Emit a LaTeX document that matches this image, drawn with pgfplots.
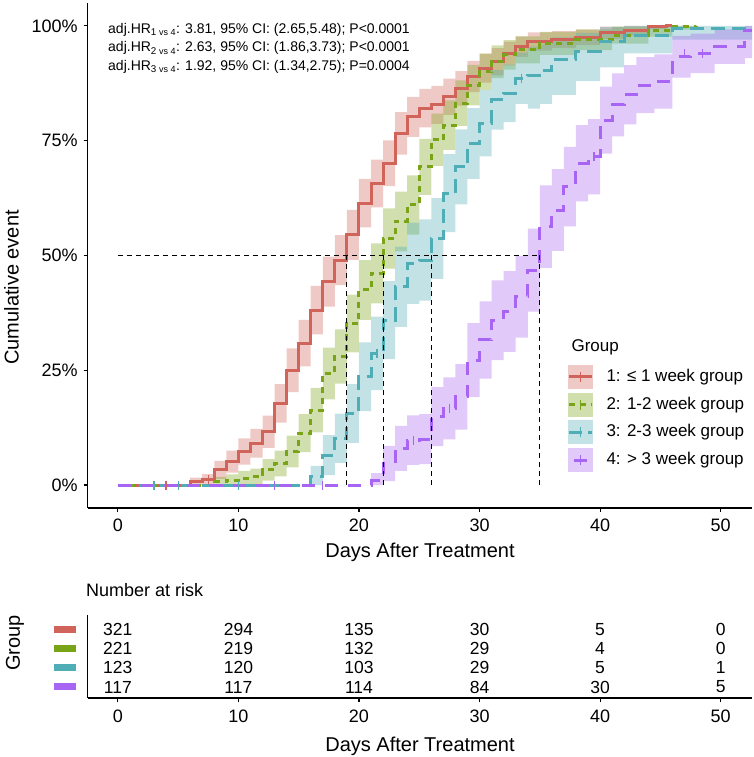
\documentclass[border=0pt]{standalone}
\usepackage{pgfplots}
\pgfplotsset{compat=1.18}
\usepackage{pgfplotstable}
\usepgfplotslibrary{fillbetween}
\usepackage{fontspec}
\setmainfont{Liberation Sans}
\definecolor{cA}{HTML}{D0635A}
\definecolor{cB}{HTML}{7AA418}
\definecolor{cC}{HTML}{4FADB5}
\definecolor{cD}{HTML}{A864F2}
\newcommand{\fs}[1]{\fontsize{#1}{#1}\selectfont}

\pgfplotstableread{
t F lo hi
0 0 0 0
6 0.7 0 1.6
7 1.2 0 2.4
8 3.3 1.35 5.25
9 5.1 2.7 7.5
10 7.3 4.45 10.15
11 9.1 5.95 12.25
12 11.6 8.1 15.1
13 17.8 13.6 22.0
14 25.0 20.25 29.75
15 30.9 25.85 35.95
16 38.1 32.8 43.4
17 44.3 38.85 49.75
18 49.0 43.55 54.45
19 54.5 49.05 59.95
20 61.4 56.1 66.7
21 65.7 60.5 70.9
22 70.1 65.1 75.1
23 76.6 71.95 81.25
24 80.2 75.85 84.55
25 82.1 77.9 86.3
26 82.8 78.65 86.95
27 84.6 80.65 88.55
28 86.4 82.65 90.15
29 89.0 85.6 92.4
30 90.8 87.65 93.95
31 92.2 89.25 95.15
32 94.0 91.4 96.6
33 95.5 93.25 97.75
34 96.6 94.6 98.6
36 97.0 95.15 98.85
38 97.5 95.8 99.2
40 98.5 97.15 99.85
42 99.0 97.9 100
44 99.8 99.3 100
45.5 100 100 100
46 100 100 100
}\gA

\pgfplotstableread{
t F lo hi
0 0 0 0
8 0.7 0 1.8
9 1.0 0 2.3
10 1.5 0 3.1
11 1.8 0.05 3.55
12 3.3 0.95 5.65
13 4.7 1.9 7.5
14 7.3 3.85 10.75
15 11.3 7.15 15.45
16 16.3 11.45 21.15
17 24.3 18.65 29.95
18 28.0 22.1 33.9
19 35.2 28.9 41.5
20 42.5 36.0 49.0
21 46.1 39.55 52.65
22 53.7 47.15 60.25
23 57.4 50.9 63.9
24 61.0 54.55 67.45
25 69.3 63.2 75.4
26 75.2 69.5 80.9
27 78.4 73.0 83.8
28 83.2 78.25 88.15
29 87.1 82.7 91.5
30 90.0 86.05 93.95
31 92.2 88.65 95.75
32 93.7 90.5 96.9
33 94.8 91.85 97.75
35 96.2 93.7 98.7
38 97.0 94.75 99.25
41 98.0 96.15 99.85
44 99.0 97.7 100
46 99.8 99.2 100
48 100 100 100
}\gB

\pgfplotstableread{
t F lo hi
0 0 0 0
16 1.8 0 4.15
17 6.5 2.15 10.85
18 10.2 4.85 15.55
19 15.6 9.2 22.0
20 23.6 16.1 31.1
21 28.7 20.7 36.7
22 35.9 27.4 44.4
23 43.2 34.45 51.95
24 48.3 39.45 57.15
25 49.0 40.15 57.85
26 53.7 44.9 62.5
27 63.6 55.1 72.1
28 69.3 61.15 77.45
29 74.4 66.7 82.1
30 78.8 71.6 86.0
31 83.9 77.4 90.4
32 85.3 79.05 91.55
33 88.6 83.0 94.2
34 89.3 82.0 95.5
35 90.4 83.0 96.0
36 92.6 85.0 97.5
38 94.4 88.0 98.5
40 96.6 91.0 99.8
42 98.0 94.0 100
46 99.5 97.0 100
52.6 99.5 97.0 100
}\gC

\pgfplotstableread{
t F lo hi
0 0 0 0
21 0.9 0 2.6
22 4.7 0.85 8.55
23 8.0 3.1 12.9
24 9.8 4.4 15.2
25 10.0 4.55 15.45
26 14.9 8.45 21.35
27 16.7 9.95 23.45
28 19.2 12.05 26.35
29 27.2 19.15 35.25
30 31.6 23.2 40.0
31 35.9 27.2 44.6
32 37.8 29.0 46.6
33 41.0 32.1 49.9
34 46.8 37.75 55.85
35 56.3 47.3 65.3
36 59.9 51.0 68.8
37 65.0 56.35 73.65
38 70.1 61.8 78.4
39 71.5 63.3 79.7
40 79.5 72.2 86.8
41 82.8 75.95 89.65
42 85.0 78.55 91.45
43 87.1 81.0 93.2
44.5 87.9 82.0 93.8
46 93.3 88.75 97.85
47.5 94.0 89.7 98.3
49.5 95.5 91.75 99.25
52 99.0 93.0 100
52.6 99.0 93.0 100
}\gD

\pgfplotstableread{
x y n
0 4 321
10 4 294
20 4 135
30 4 30
40 4 5
50 4 0
0 3 221
10 3 219
20 3 132
30 3 29
40 3 4
50 3 0
0 2 123
10 2 120
20 2 103
30 2 29
40 2 5
50 2 1
0 1 117
10 1 117
20 1 114
30 1 84
40 1 30
50 1 5
}\risk

\begin{document}
\begin{tikzpicture}
\begin{axis}[
  at={(87.7pt,249pt)}, anchor=south west,
  scale only axis, width=664.3pt, height=505pt,
  xmin=-2.5, xmax=52.6, ymin=-5, ymax=105,
  axis x line*=bottom, axis y line*=left,
  axis line style={line width=1.1pt, black},
  xtick={0,10,...,50},
  ytick={0,25,50,75,100},
  yticklabels={0\%,25\%,50\%,75\%,100\%},
  tick align=outside, major tick length=4pt,
  tick style={line width=1.1pt, black},
  tick label style={font=\fs{18}},
  xticklabel style={yshift=-3pt},
  yticklabel style={xshift=-2.5pt},
  /pgf/number format/assume math mode=true,
]
% bands
\addplot[name path=uA, const plot, draw=none, forget plot] table[x=t,y=hi]{\gA};
\addplot[name path=lA, const plot, draw=none, forget plot] table[x=t,y=lo]{\gA};
\addplot[fill=cA, fill opacity=0.35, draw=none, forget plot] fill between[of=uA and lA];
\addplot[name path=uB, const plot, draw=none, forget plot] table[x=t,y=hi]{\gB};
\addplot[name path=lB, const plot, draw=none, forget plot] table[x=t,y=lo]{\gB};
\addplot[fill=cB, fill opacity=0.35, draw=none, forget plot] fill between[of=uB and lB];
\addplot[name path=uC, const plot, draw=none, forget plot] table[x=t,y=hi]{\gC};
\addplot[name path=lC, const plot, draw=none, forget plot] table[x=t,y=lo]{\gC};
\addplot[fill=cC, fill opacity=0.35, draw=none, forget plot] fill between[of=uC and lC];
\addplot[name path=uD, const plot, draw=none, forget plot] table[x=t,y=hi]{\gD};
\addplot[name path=lD, const plot, draw=none, forget plot] table[x=t,y=lo]{\gD};
\addplot[fill=cD, fill opacity=0.35, draw=none, forget plot] fill between[of=uD and lD];
% curves
\addplot[cA, line width=3pt, const plot, mark=none] table[x=t,y=F]{\gA};
\addplot[cB, line width=3pt, const plot, mark=none, dash pattern=on 6pt off 5pt] table[x=t,y=F]{\gB};
\addplot[cC, line width=3pt, const plot, mark=none, dash pattern=on 14pt off 7pt] table[x=t,y=F]{\gC};
\addplot[cD, line width=3pt, const plot, mark=none, dash pattern=on 13pt off 10pt] table[x=t,y=F]{\gD};
% censor marks
\addplot[only marks, mark=|, mark size=4.5pt, cA, mark options={line width=1.2pt}] coordinates {(4,0) (7.5,1.2)};
\addplot[only marks, mark=|, mark size=4.5pt, cC, mark options={line width=1.2pt}] coordinates {(3,0) (5,0) (10,0) (21.5,28.7) (33.5,88.6)};
\addplot[only marks, mark=|, mark size=4.5pt, cD, mark options={line width=1.2pt}] coordinates {(13,0) (17,0) (24.5,9.8) (27.5,16.7) (39.5,71.5) (47,94.0) (48.5,94.0)};
% median lines
\addplot[black, line width=1.1pt, dash pattern=on 5pt off 4pt] coordinates {(0,50) (35,50)};
\addplot[black, line width=1.1pt, dash pattern=on 5pt off 4pt] coordinates {(19,0) (19,50)};
\addplot[black, line width=1.1pt, dash pattern=on 5pt off 4pt] coordinates {(22,0) (22,50)};
\addplot[black, line width=1.1pt, dash pattern=on 5pt off 4pt] coordinates {(26,0) (26,50)};
\addplot[black, line width=1.1pt, dash pattern=on 5pt off 4pt] coordinates {(35,0) (35,50)};
\end{axis}

\begin{axis}[
  at={(87.7pt,59pt)}, anchor=south west,
  scale only axis, width=664.3pt, height=83pt,
  xmin=-2.5, xmax=52.6, ymin=0.43, ymax=4.73,
  axis x line*=bottom, axis y line*=left,
  axis line style={line width=1.1pt, black},
  xtick={0,10,...,50},
  ytick={1,2,3,4},
  yticklabels={{\textcolor{cD}{\rule{23pt}{7pt}}},{\textcolor{cC}{\rule{23pt}{7pt}}},{\textcolor{cB}{\rule{23pt}{7pt}}},{\textcolor{cA}{\rule{23pt}{7pt}}}},
  tick align=outside, major tick length=4pt,
  tick style={line width=1.1pt, black},
  ytick style={white},
  xticklabel style={font=\fs{18}, yshift=-4pt},
  yticklabel style={inner sep=0pt, xshift=-7pt},
  /pgf/number format/assume math mode=true,
  clip=false,
]
\addplot[only marks, mark=none, nodes near coords, point meta=explicit symbolic,
  nodes near coords align={center},
  every node near coord/.append style={font=\fs{17.5}, inner sep=0pt, anchor=center, black}]
  table[x=x,y=y,meta=n]{\risk};
\draw[black, line width=1.2pt] (rel axis cs:0,0) -- (rel axis cs:0,1);
\end{axis}

% texts
\node[anchor=west, inner sep=0pt, font=\fs{14}] at (108pt,727pt) {adj.HR\textsubscript{1 {\fs{9}vs 4}}: 3.81, 95\% CI: (2.65,5.48); P<0.0001};
\node[anchor=west, inner sep=0pt, font=\fs{14}] at (108pt,708.7pt) {adj.HR\textsubscript{2 {\fs{9}vs 4}}: 2.63, 95\% CI: (1.86,3.73); P<0.0001};
\node[anchor=west, inner sep=0pt, font=\fs{14}] at (108pt,690.3pt) {adj.HR\textsubscript{3 {\fs{9}vs 4}}: 1.92, 95\% CI: (1.34,2.75); P=0.0004};

\node[rotate=90, font=\fs{20}] at (11.5pt,469.5pt) {Cumulative event};
\node[font=\fs{20}] at (420pt,205pt) {Days After Treatment};
\node[font=\fs{20}] at (420pt,10.5pt) {Days After Treatment};
\node[anchor=west, inner sep=0pt, font=\fs{18}] at (86pt,167pt) {Number at risk};
\node[rotate=90, font=\fs{20}] at (15pt,114pt) {Group};

% legend
\node[anchor=west, font=\fs{17}] at (568pt,410pt) {Group};
\fill[cA, opacity=0.35] (568pt,368pt) rectangle (593pt,392pt);
\draw[cA, line width=3pt] (569pt,380pt) -- (592pt,380pt);
\draw[cA, line width=1pt] (580.5pt,375pt) -- (580.5pt,385pt);
\node[anchor=west, font=\fs{17}] at (603pt,380pt) {1: ≤ 1 week group};
\fill[cB, opacity=0.35] (568pt,340.3pt) rectangle (593pt,364.3pt);
\draw[cB, line width=3pt, dash pattern=on 6pt off 5pt] (569pt,352.3pt) -- (592pt,352.3pt);
\draw[cB, line width=1pt] (580.5pt,347.3pt) -- (580.5pt,357.3pt);
\node[anchor=west, font=\fs{17}] at (603pt,352.3pt) {2: 1-2 week group};
\fill[cC, opacity=0.35] (568pt,312.6pt) rectangle (593pt,336.6pt);
\draw[cC, line width=3pt, dash pattern=on 13pt off 6pt] (569pt,324.6pt) -- (592pt,324.6pt);
\draw[cC, line width=1pt] (580.5pt,319.6pt) -- (580.5pt,329.6pt);
\node[anchor=west, font=\fs{17}] at (603pt,324.6pt) {3: 2-3 week group};
\fill[cD, opacity=0.35] (568pt,284.9pt) rectangle (593pt,308.9pt);
\draw[cD, line width=3pt] (574pt,296.9pt) -- (587pt,296.9pt);
\draw[cD, line width=1pt] (580.5pt,291.9pt) -- (580.5pt,301.9pt);
\node[anchor=west, font=\fs{17}] at (603pt,296.9pt) {4: > 3 week group};

\pgfresetboundingbox
\useasboundingbox (0,0) rectangle (754pt,757pt);
\end{tikzpicture}
\end{document}
